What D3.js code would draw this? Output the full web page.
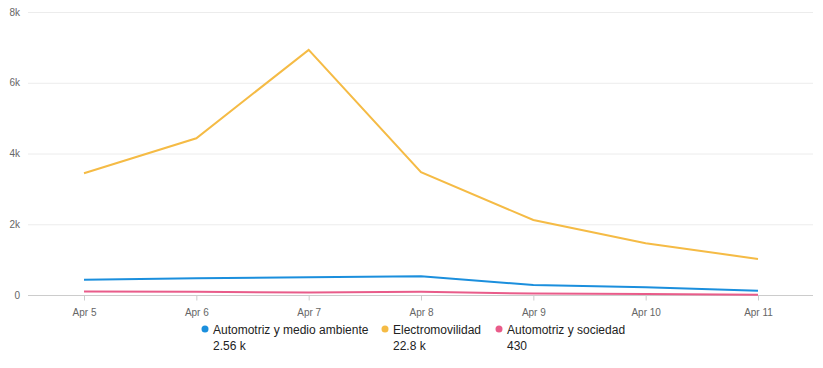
<!DOCTYPE html>
<html>
<head>
<meta charset="utf-8">
<script src="https://cdn.jsdelivr.net/npm/d3@7"></script>
<style>
  body { margin: 0; background: #fff; font-family: "Liberation Sans", Arial, sans-serif; }
</style>
</head>
<body>
<div id="chart"></div>
<script>
const days = ['Apr 5', 'Apr 6', 'Apr 7', 'Apr 8', 'Apr 9', 'Apr 10', 'Apr 11'];
const seriesNames = ['Automotriz y medio ambiente', 'Electromovilidad', 'Automotriz y sociedad'];
const medioAmbiente = [430, 470, 500, 530, 280, 220, 120];
const electromovilidad = [3440, 4430, 6930, 3470, 2120, 1460, 1020];
const sociedad = [100, 90, 70, 90, 40, 30, 10];
const totals = ['2.56 k', '22.8 k', '430'];
const yTicks = [0, 2000, 4000, 6000, 8000];
const colors = ['#1b8fdd', '#f5bb45', '#e95c8a'];

const dimension = {
  width: 823,
  height: 368,
  margin: { top: 12, right: 10, bottom: 73, left: 28 }
};

const svg = d3.select('#chart')
  .append('svg')
  .attr('width', dimension.width)
  .attr('height', dimension.height);

const series = [medioAmbiente, electromovilidad, sociedad];

const xScale = d3.scalePoint()
  .domain(days)
  .range([84, 758]);

const yScale = d3.scaleLinear()
  .domain([0, 8000])
  .range([dimension.height - dimension.margin.bottom, dimension.margin.top]);

const plotLeft = dimension.margin.left;
const plotRight = dimension.width - dimension.margin.right;

// gridlines
svg.append('g')
  .selectAll('line')
  .data(yTicks.filter(d => d > 0))
  .join('line')
  .attr('x1', plotLeft)
  .attr('x2', plotRight)
  .attr('y1', d => yScale(d) + 0.5)
  .attr('y2', d => yScale(d) + 0.5)
  .attr('stroke', '#ececec');

// y labels
svg.append('g')
  .selectAll('text')
  .data(yTicks)
  .join('text')
  .attr('x', 20)
  .attr('y', d => yScale(d))
  .attr('dy', '0.35em')
  .attr('text-anchor', 'end')
  .attr('font-size', 10)
  .attr('fill', '#666')
  .text(d => d === 0 ? '0' : (d / 1000) + 'k');

// x axis
const xAxis = svg.append('g')
  .attr('transform', `translate(0, ${yScale(0) + 0.5})`)
  .call(d3.axisBottom(xScale).tickSize(5).tickPadding(8));
xAxis.select('.domain').attr('d', `M${plotLeft},0H${plotRight}`).attr('stroke', '#ccc');
xAxis.selectAll('.tick line').attr('stroke', '#ccc');
xAxis.selectAll('.tick text')
  .attr('font-size', 10)
  .attr('fill', '#666')
  .attr('font-family', '"Liberation Sans", Arial, sans-serif');

const line = d3.line()
  .x((d, i) => xScale(days[i]))
  .y(d => yScale(d));

// lines, drawn with orange last but pink on top at bottom is fine
svg.append('g')
  .selectAll('path')
  .data(series)
  .join('path')
  .attr('d', d => line(d))
  .attr('fill', 'none')
  .attr('stroke', (d, i) => colors[i])
  .attr('stroke-width', 2);

// legend
const legendX = [205, 385, 499];
const legend = svg.append('g')
  .selectAll('g')
  .data(seriesNames)
  .join('g')
  .attr('transform', (d, i) => `translate(${legendX[i]}, 329)`);

legend.append('circle')
  .attr('r', 3.5)
  .attr('fill', (d, i) => colors[i]);

legend.append('text')
  .attr('x', 8)
  .attr('y', 4.5)
  .attr('font-size', 12)
  .attr('fill', '#222')
  .text(d => d);

legend.append('text')
  .attr('x', 8)
  .attr('y', 20.5)
  .attr('font-size', 12)
  .attr('fill', '#222')
  .text((d, i) => totals[i]);
</script>
</body>
</html>
